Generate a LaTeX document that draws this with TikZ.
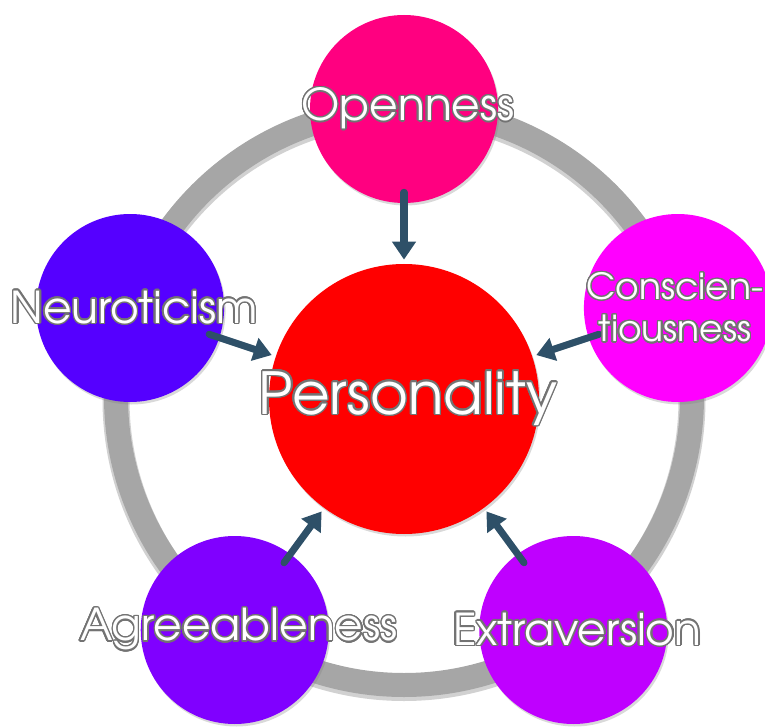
\documentclass[tikz,border=0pt]{standalone}
\usepackage{fontspec}
\setmainfont{TeX Gyre Adventor}
\usepackage{xcolor}
\usepackage[copies]{contour}
\usepackage{tikz}
\usetikzlibrary{arrows.meta, shadows}
\usetikzlibrary{positioning}

\contourlength{0.8pt}
\contournumber{24}

\definecolor{openc}{RGB}{255,0,128}
\definecolor{consc}{RGB}{255,0,255}
\definecolor{extrc}{RGB}{191,0,255}
\definecolor{agrec}{RGB}{128,0,255}
\definecolor{neurc}{RGB}{85,0,255}
\definecolor{persc}{RGB}{255,0,0}
\definecolor{arrowc}{RGB}{46,80,104}
\definecolor{ringc}{RGB}{166,166,166}

\newcommand{\outl}[1]{\contour{black!55}{#1}}

\tikzset{
  bubble/.style={circle, minimum size=3.76cm, inner sep=0pt,
    drop shadow={opacity=0.3, shadow xshift=0.03cm, shadow yshift=-0.05cm}},
  trait/.style={text=white, align=center, xshift=0.08cm,
    font=\fontsize{25}{28}\selectfont},
  infl/.style={draw=arrowc, line width=4pt, line cap=round,
    -{Triangle[length=0.36cm, width=0.46cm]},
    shorten <=-0.22cm, shorten >=0.08cm},
}

\begin{document}
\begin{tikzpicture}
      \useasboundingbox (0,0) rectangle (15.3,14.54);
      \coordinate (mid) at (8.08,6.60);

      % ring
      \draw[black!60, opacity=0.3, line width=0.54cm] ([yshift=-0.05cm]mid) circle (5.76);
      \draw[ringc, line width=0.48cm] (mid) circle (5.76);

      \node[bubble, fill=persc, minimum size=5.4cm] (pers) at (8.08,6.56) {};

      \node[bubble, fill=openc] (open) at ([shift={(90:5.76)}]mid) {};
      \node[bubble, fill=consc] (cons) at ([shift={(18:5.76)}]mid) {};
      \node[bubble, fill=extrc] (extr) at ([shift={(-54:5.76)}]mid) {};
      \node[bubble, fill=agrec] (agre) at ([shift={(-126:5.76)}]mid) {};
      \node[bubble, fill=neurc] (neur) at ([shift={(162:5.76)}]mid) {};

      \draw[infl] (open) -- (pers);
      \draw[infl] (cons) -- (pers);
      \draw[infl] (extr) -- (pers);
      \draw[infl] (agre) -- (pers);
      \draw[infl] (neur) -- (pers);

      \node[trait] (open-t) at (open) {\outl{Openness}};
      \node[trait, xshift=-0.14cm, font=\fontsize{20.5}{24}\selectfont] (cons-t) at (cons) {\outl{Conscien-}\\\outl{tiousness}};
      \node[trait] (extr-t) at (extr) {\outl{Extraversion}};
      \node[trait] (agre-t) at (agre) {\outl{Agreeableness}};
      \node[trait] (neur-t) at (neur) {\outl{Neuroticism}};
      \node[trait, font=\fontsize{33}{36}\selectfont] (pers-t) at (pers) {\outl{Personality}};

\end{tikzpicture}
\end{document}
